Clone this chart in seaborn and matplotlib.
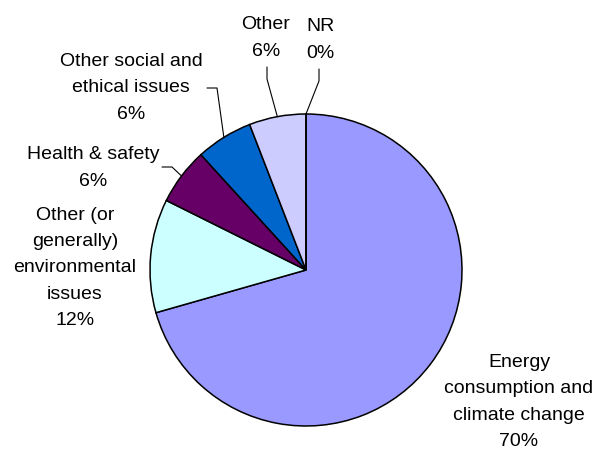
import numpy as np
import matplotlib
matplotlib.use('Agg')
import matplotlib.pyplot as plt
import seaborn as sns

sns.set_theme(style='white')
plt.rcParams['font.family'] = ['Liberation Sans', 'DejaVu Sans']

# data (clockwise from 12 o'clock)
categories = ['Energy\nconsumption and\nclimate change', 'Other (or\ngenerally)\nenvironmental\nissues',
              'Health & safety', 'Other social and\nethical issues', 'Other', 'NR']
counts = [24, 4, 2, 2, 2, 0]
pct_labels = ['70%', '12%', '6%', '6%', '6%', '0%']
colors = ['#9999FF', '#CCFFFF', '#660066', '#0066CC', '#CCCCFF', '#FFFFCC']

# layout (pixels): pie centre and radius
W, H = 597, 452
cx, cy, R = 306, 271, 156

def px(x, y):
    return (x - cx) / R, (cy - y) / R

fig = plt.figure(figsize=(W / 100, H / 100), dpi=100)
ax = fig.add_axes([0, 0, 1, 1])

wedges, _ = ax.pie(counts, colors=colors, startangle=90, counterclock=False, radius=1,
                   wedgeprops=dict(edgecolor='black', linewidth=1.1))

ax.set_xlim(-cx / R, (W - cx) / R)
ax.set_ylim(-(H - cy) / R, cy / R)
ax.set_aspect('equal', adjustable='box')
ax.axis('off')

# label text positions (pixels) and leader elbow points
label_pos = [(519, 402), (75, 268), (93, 168), (131, 88), (266, 38), (320, 40)]
leaders = [None, None, [(162, 168), (172, 168)], [(207, 89), (217, 89)],
           [(267, 68), (267, 80)], [(319, 70), (319, 82)]]

for w, cat, pct, pos, lead in zip(wedges, categories, pct_labels, label_pos, leaders):
    ax.text(*px(*pos), cat + '\n' + pct, ha='center', va='center', fontsize=14,
            linespacing=1.72, color='black')
    if lead is not None:
        mid = np.deg2rad((w.theta1 + w.theta2) / 2)
        pts = [px(*p) for p in lead] + [(np.cos(mid), np.sin(mid))]
        xs, ys = zip(*pts)
        ax.plot(xs, ys, color='black', linewidth=0.8)

fig.savefig('out.png', dpi=100)
